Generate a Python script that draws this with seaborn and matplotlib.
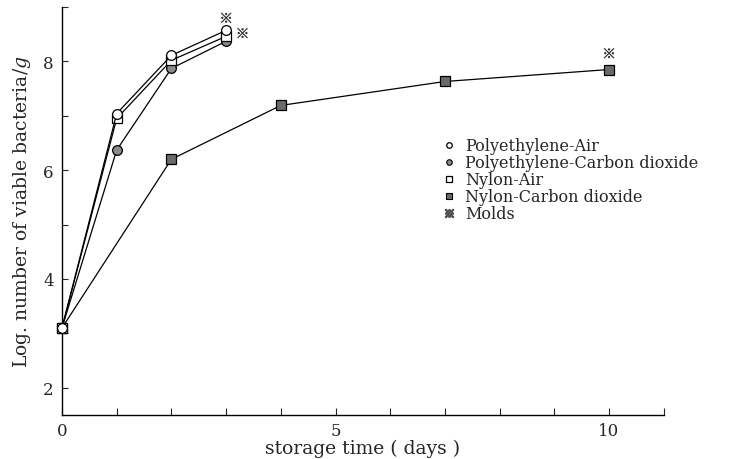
import matplotlib
matplotlib.use("Agg")
import matplotlib.pyplot as plt
from matplotlib.lines import Line2D
import seaborn as sns
import pandas as pd

# Data
pe_air_days = [0, 1, 2, 3]
pe_air_vals = [3.1, 7.04, 8.11, 8.57]
pe_co2_days = [0, 1, 2, 3]
pe_co2_vals = [3.1, 6.37, 7.87, 8.37]
ny_air_days = [0, 1, 2, 3]
ny_air_vals = [3.1, 6.95, 8.02, 8.46]
ny_co2_days = [0, 2, 4, 7, 10]
ny_co2_vals = [3.1, 6.2, 7.19, 7.63, 7.85]
mold_days = [3.0, 3.3, 10.0]
mold_vals = [8.8, 8.52, 8.15]

labels = ["Polyethylene-Air", "Polyethylene-Carbon dioxide", "Nylon-Air",
          "Nylon-Carbon dioxide", "Molds"]

sns.set_style("white")
plt.rcParams['font.family'] = ['DejaVu Serif', 'DejaVu Sans']
plt.rcParams['mathtext.fontset'] = 'dejavuserif'

fig = plt.figure(figsize=(7.56, 4.60), dpi=100)
ax = fig.add_axes([0.082, 0.0957, 0.796, 0.887])

styles = [
    (ny_co2_days, ny_co2_vals, 's', '#6a6a6a'),
    (pe_co2_days, pe_co2_vals, 'o', '#8a8a8a'),
    (ny_air_days, ny_air_vals, 's', 'white'),
    (pe_air_days, pe_air_vals, 'o', 'white'),
]
for d, v, m, fc in styles:
    df = pd.DataFrame({"day": d, "val": v})
    sns.lineplot(data=df, x="day", y="val", ax=ax, color='black', lw=0.9,
                 marker=m, markersize=7, markerfacecolor=fc,
                 markeredgecolor='black', markeredgewidth=0.9, zorder=3,
                 clip_on=False)

mdf = pd.DataFrame({"day": mold_days, "val": mold_vals})
sns.scatterplot(data=mdf, x="day", y="val", ax=ax, marker='$※$', s=60,
                color='#333333', edgecolor='none', zorder=4)

ax.set_xlim(0, 11)
ax.set_ylim(1.5, 9.0)
ax.set_xticks(range(0, 12))
ax.set_xticklabels(['0', '', '', '', '', '5', '', '', '', '', '10', ''])
ax.set_yticks(range(2, 10))
ax.set_yticklabels(['2', '', '4', '', '6', '', '8', ''])
ax.tick_params(axis='x', direction='in', length=5, width=0.8, labelsize=12, pad=5,
               bottom=True)
ax.tick_params(axis='y', direction='in', length=4, width=0.8, labelsize=12, pad=6,
               left=True)
for s in ['top', 'right']:
    ax.spines[s].set_visible(False)
for s in ['left', 'bottom']:
    ax.spines[s].set_color('black')
    ax.spines[s].set_linewidth(1.0)

ax.set_xlabel("storage time ( days )", fontsize=13.5, labelpad=0)
ax.set_ylabel("Log. number of viable bacteria/$g$", fontsize=13.5, labelpad=7)

handles = [
    Line2D([], [], ls='none', marker='o', markersize=4, mfc='white', mec='black', mew=0.9),
    Line2D([], [], ls='none', marker='o', markersize=4, mfc='#8a8a8a', mec='black', mew=0.8),
    Line2D([], [], ls='none', marker='s', markersize=4, mfc='white', mec='black', mew=0.9),
    Line2D([], [], ls='none', marker='s', markersize=4, mfc='#6a6a6a', mec='black', mew=0.8),
    Line2D([], [], ls='none', marker='$※$', markersize=6, color='#555555'),
]
ax.legend(handles, labels, loc='upper left', bbox_to_anchor=(0.62, 0.70),
          frameon=False, fontsize=11.5, handlelength=0.8, handletextpad=0.6,
          labelspacing=0.0, borderpad=0)

fig.savefig("out.png", dpi=100)
